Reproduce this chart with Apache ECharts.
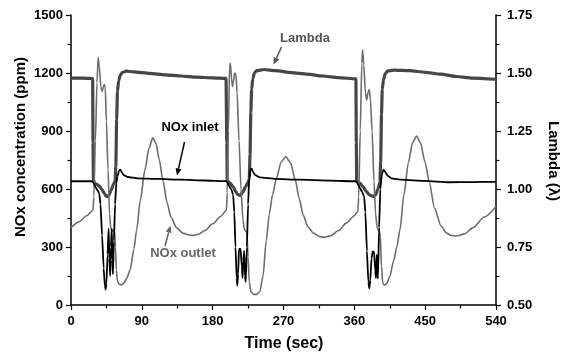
<!DOCTYPE html>
<html><head><meta charset="utf-8">
<script src="https://cdn.jsdelivr.net/npm/echarts@6/dist/echarts.min.js"></script>
<style>html,body{margin:0;padding:0;background:#fff}#c{width:562px;height:357px}</style>
</head><body><div id="c"></div>
<script>
// ---- tick labels ----
const timeTicks = [0, 90, 180, 270, 360, 450, 540];
const noxTicks = [0, 300, 600, 900, 1200, 1500];
const lambdaTicks = [0.50, 0.75, 1.00, 1.25, 1.50, 1.75];

// ---- Lambda (right axis) ----
const lambdaTime = [0,10,20,27.5,28,28.5,30,33,36,39,42,44.5,46,48,51,54,56,57,58,59,60.5,62.5,65,70,80,100,120,140,160,180,197,
 197.5,198,198.5,202,206,209,212,215,218,222,225,226.5,227.5,228.5,229.5,231,233,236,245,260,280,300,320,340,362,
 362.5,363,367,371,375,379,384,387,390,392.5,393.5,394.5,395.5,397,399,402,410,430,450,470,490,510,540];
const lambdaVal = [1.478,1.478,1.477,1.476,1.2,1.04,1.025,1.02,1.012,1.0,0.982,0.97,0.967,0.972,0.995,1.02,1.035,1.1,1.3,1.42,1.465,1.49,1.502,1.508,1.505,1.498,1.492,1.487,1.482,1.479,1.477,
 1.477,1.2,1.035,1.025,1.01,0.99,0.976,0.972,0.985,1.01,1.03,1.045,1.15,1.33,1.43,1.475,1.5,1.51,1.515,1.51,1.502,1.495,1.487,1.48,1.475,
 1.2,1.035,1.025,1.01,0.99,0.975,0.968,0.975,1.0,1.03,1.12,1.32,1.43,1.47,1.495,1.508,1.512,1.51,1.503,1.495,1.485,1.478,1.473];

// ---- NOx inlet (left axis) ----
const inletTime = [0,27,28.5,31,34,36,37.5,39.5,41.5,43,44,45,46.5,47.8,48.8,49.8,50.8,51.8,52.6,53.3,54.5,56,57.5,59,61,62.5,64,67,72,85,110,140,170,197,
 198.5,201,204,206,207.5,209,210.5,211.3,212.3,213.5,215.5,217,218,219,220,221,222,223.5,225,226.5,228,229.5,231,234,240,260,290,330,362,
 364,367,370,372.5,374,376,377.8,379,380.3,381.8,383.3,385,386.5,387.5,388.5,389.3,390,391.5,393,395,397,399,402,407,420,450,480,510,540];
const inletVal = [640,640,632,610,592,575,520,360,190,100,80,110,260,395,240,150,300,395,230,160,330,520,630,665,695,700,690,672,662,655,652,648,644,641,
 635,615,595,570,480,300,140,100,160,290,290,200,140,230,280,150,120,300,520,660,702,705,690,672,660,652,648,643,640,
 630,605,585,560,480,280,120,86,130,240,276,276,180,140,260,150,138,400,600,675,700,690,670,655,648,642,635,636,637];

// ---- NOx outlet (left axis) ----
const outletTime = [0,10,20,28,29,31,33,34.5,36,38,39.5,41,42.3,43.5,45,47,49,50.5,52,55.5,56.5,57.5,59,61,64,67,71,75,80,83.4,88,94,99,104,108,112,117,122,127,134,142,150,156,162,170,180,190,197.5,
 198.5,200,201.5,202.5,204,205.2,206.5,208,209.5,211,213.5,216,218.5,220.5,223.5,225,226.5,228.5,232,236,240,244,248,252,256,261,267,273,279,285,290,295,301,308,315,322,330,340,350,360,364.5,
 365.5,367.5,369.5,370.5,372,374,375.7,377.5,379,380.5,382.5,385,387,389,391.5,393,394.5,396,398,401,405,410,414,418,423,428.6,434,439,444,449.8,455,462,470,477,483,490,500,511,525,540];
const outletVal = [400,430,462,490,560,850,1150,1280,1230,1130,1105,1125,1140,1125,950,700,470,400,385,378,300,180,125,108,104,112,140,180,290,388,540,700,810,865,835,755,640,530,455,400,372,362,360,366,385,420,458,490,
 580,900,1240,1250,1170,1130,1160,1200,1195,1100,850,600,440,390,375,250,120,70,55,55,70,150,330,470,570,655,740,767,735,645,550,465,405,372,355,350,358,385,425,462,485,
 560,900,1250,1320,1240,1100,1060,1100,1115,1060,900,640,470,400,380,360,200,115,103,110,146,230,300,390,570,735,840,874,840,740,640,500,410,372,360,357,368,400,455,510];

const zip = (a, b) => a.map((t, i) => [t, b[i]]);
const FONT = '"Liberation Sans", Arial, sans-serif';

function arrow(x1, y1, x2, y2, color) {
  const dx = x2 - x1, dy = y2 - y1, L = Math.hypot(dx, dy);
  const ux = dx / L, uy = dy / L, hl = 7, hw = 3;
  const bx = x2 - ux * hl, by = y2 - uy * hl, px = -uy, py = ux;
  return {
    type: 'group', children: [
      { type: 'line', shape: { x1, y1, x2: bx, y2: by }, style: { stroke: color, lineWidth: 1.5 } },
      { type: 'polygon', shape: { points: [[x2, y2], [bx + px * hw, by + py * hw], [bx - px * hw, by - py * hw]] }, style: { fill: color } }
    ]
  };
}
function label(text, x, y, size, color, rot) {
  return { type: 'text', x, y, rotation: rot || 0,
    style: { text, fill: color, font: 'bold ' + size + 'px ' + FONT, align: 'center', verticalAlign: 'middle' } };
}

const axisCommon = {
  axisLine: { show: true, lineStyle: { color: '#000', width: 1.5 } },
  axisTick: { show: true, inside: false, length: 5, lineStyle: { color: '#000', width: 1.2 } },
  minorTick: { show: true, splitNumber: 2, length: 3.5, lineStyle: { color: '#000', width: 1.2 } },
  splitLine: { show: false },
  axisLabel: { color: '#000', fontWeight: 'bold', fontSize: 13, fontFamily: FONT }
};

const chart = echarts.init(document.getElementById('c'), null, { renderer: 'canvas' });
chart.setOption({
  animation: false,
  backgroundColor: '#fff',
  grid: { left: 71, right: 66, top: 15, bottom: 52, containLabel: false },
  xAxis: Object.assign({}, axisCommon, {
    type: 'value', min: timeTicks[0], max: timeTicks[timeTicks.length - 1], interval: timeTicks[1] - timeTicks[0],
    axisLabel: Object.assign({}, axisCommon.axisLabel, { margin: 10, formatter: v => String(v) })
  }),
  yAxis: [
    Object.assign({}, axisCommon, {
      type: 'value', position: 'left', min: noxTicks[0], max: noxTicks[noxTicks.length - 1], interval: noxTicks[1] - noxTicks[0],
      axisLabel: Object.assign({}, axisCommon.axisLabel, { margin: 8, formatter: v => String(v) })
    }),
    Object.assign({}, axisCommon, {
      type: 'value', position: 'right', min: lambdaTicks[0], max: lambdaTicks[lambdaTicks.length - 1], interval: lambdaTicks[1] - lambdaTicks[0],
      axisLabel: Object.assign({}, axisCommon.axisLabel, { margin: 11, formatter: v => v.toFixed(2) })
    })
  ],
  series: [
    { name: 'Lambda', type: 'line', yAxisIndex: 1, data: zip(lambdaTime, lambdaVal), showSymbol: false, smooth: 0.2, smoothMonotone: 'x',
      lineStyle: { color: '#464646', width: 3.2 }, z: 2 },
    { name: 'NOx outlet', type: 'line', yAxisIndex: 0, data: zip(outletTime, outletVal), showSymbol: false, smooth: 0.25, smoothMonotone: 'x',
      lineStyle: { color: '#6c6c6c', width: 1.6 }, z: 3 },
    { name: 'NOx inlet', type: 'line', yAxisIndex: 0, data: zip(inletTime, inletVal), showSymbol: false, smooth: 0.15, smoothMonotone: 'x',
      lineStyle: { color: '#000', width: 1.8 }, z: 4 }
  ],
  graphic: [
    label('NOx concentration (ppm)', 21, 147, 15, '#000', Math.PI / 2),
    label('Lambda (\u03bb)', 553, 161, 15, '#000', -Math.PI / 2),
    label('Time (sec)', 284, 344, 16, '#000', 0),
    label('Lambda', 305, 38, 13, '#555', 0),
    label('NOx inlet', 190, 127, 13, '#000', 0),
    label('NOx outlet', 183, 253, 13, '#666', 0),
    arrow(281.5, 47, 273.5, 64.5, '#555'),
    arrow(184.5, 142, 177, 175.5, '#000'),
    arrow(165, 246, 170.5, 225.5, '#666')
  ]
});
</script></body></html>
